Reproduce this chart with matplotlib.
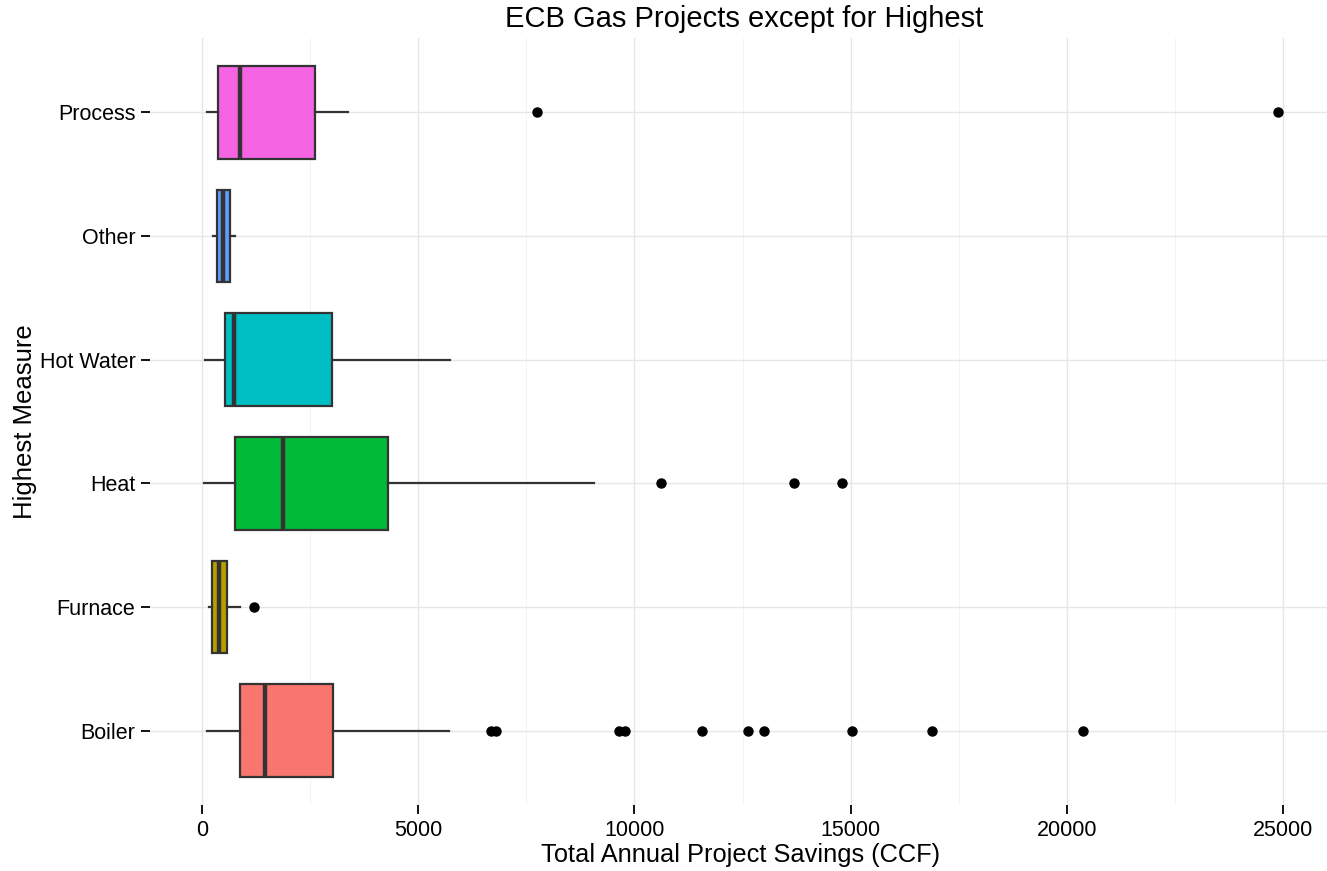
import matplotlib.pyplot as plt
from matplotlib.ticker import MultipleLocator

plt.rcParams["font.family"] = ["Liberation Sans", "DejaVu Sans"]

# measure groups, bottom to top
categories = ["Boiler", "Furnace", "Heat", "Hot Water", "Other", "Process"]
fill_colors = ["#F8766D", "#B79F00", "#00BA38", "#00BFC4", "#619CFF", "#F564E3"]

# five-number summaries per group (CCF)
whisker_low = [115, 175, 46, 85, 268, 130]
q1 = [877, 238, 762, 547, 360, 370]
median = [1452, 406, 1885, 755, 498, 880]
q3 = [3030, 591, 4310, 3018, 653, 2610]
whisker_high = [5712, 884, 9058, 5744, 762, 3370]
outliers = [
    [6692, 6808, 9637, 9776, 11560, 12620, 13000, 15030, 16870, 20370],
    [1214],
    [10625, 13688, 14810],
    [],
    [],
    [7740, 24870],
]

W, H = 1327, 871
fig = plt.figure(figsize=(W / 100, H / 100), dpi=100)
ax = fig.add_axes([150 / W, 1 - 805 / H, (W - 150) / W, (805 - 38) / H])

stats = []
for i, name in enumerate(categories):
    stats.append({
        "label": name,
        "whislo": whisker_low[i],
        "q1": q1[i],
        "med": median[i],
        "q3": q3[i],
        "whishi": whisker_high[i],
        "fliers": outliers[i],
    })

positions = list(range(1, len(categories) + 1))
edge = "#333333"
bp = ax.bxp(
    stats, positions=positions, widths=0.75, orientation="horizontal",
    patch_artist=True, showcaps=False,
    boxprops=dict(edgecolor=edge, linewidth=1.6),
    medianprops=dict(color=edge, linewidth=3.2, solid_capstyle="butt"),
    whiskerprops=dict(color=edge, linewidth=1.6),
    flierprops=dict(marker="o", markerfacecolor="black", markeredgecolor="black",
                    markersize=6.5, linestyle="none"),
)
for patch, col in zip(bp["boxes"], fill_colors):
    patch.set_facecolor(col)

ax.set_xlim(-1195, 26010)
ax.set_ylim(0.4, 6.6)
ax.set_yticks(positions)
ax.set_yticklabels(categories)
ax.xaxis.set_major_locator(MultipleLocator(5000))
ax.xaxis.set_minor_locator(MultipleLocator(2500))

ax.set_axisbelow(True)
ax.grid(True, which="major", color="#E6E6E6", linewidth=1.0)
ax.grid(True, which="minor", axis="x", color="#F2F2F2", linewidth=0.6)
for s in ax.spines.values():
    s.set_visible(False)

ax.tick_params(axis="both", which="major", length=6.5, width=1.4, color="#111111",
               labelsize=15.5, labelcolor="black", pad=4)
ax.tick_params(axis="both", which="minor", length=0)

ax.set_xlabel("Total Annual Project Savings (CCF)", fontsize=18.3, va="center")
ax.set_ylabel("Highest Measure", fontsize=18.5, va="center")
ax.xaxis.set_label_coords((741 - 150) / (W - 150), (805 - 855) / (805 - 38))
ax.yaxis.set_label_coords((25 - 150) / (W - 150), 0.5)
fig.text(744 / W, 1 - 19 / H, "ECB Gas Projects except for Highest",
         ha="center", va="center", fontsize=21)

fig.savefig("out.png", dpi=100)
